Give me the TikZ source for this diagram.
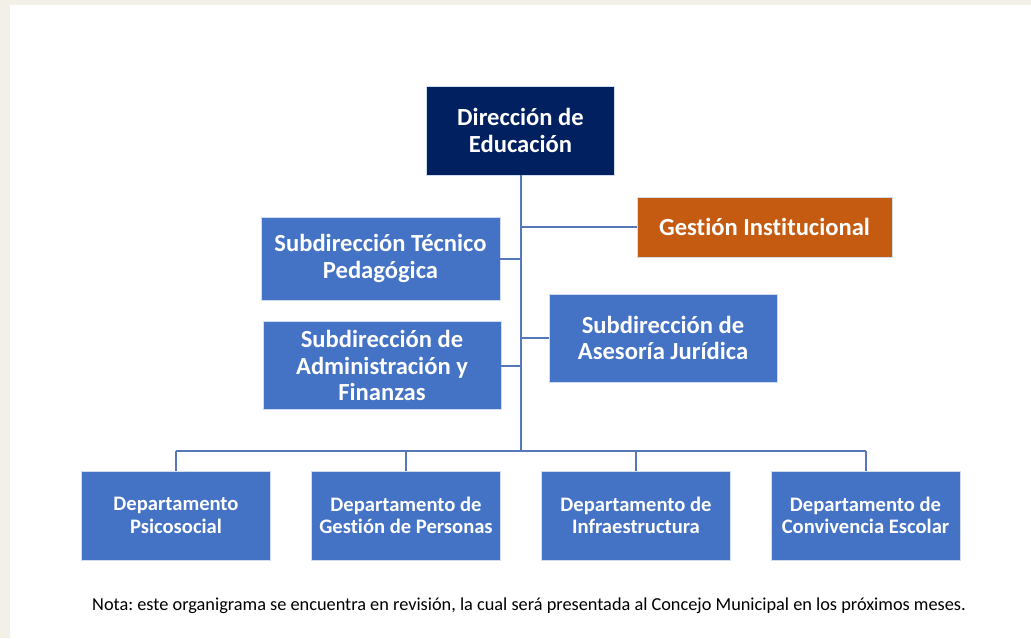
\documentclass[tikz,border=0pt]{standalone}
\usepackage{fontspec}
\setmainfont{Carlito}[Ligatures=NoCommon]
\frenchspacing
\definecolor{bgbeige}{HTML}{F3F0E8}
\definecolor{navy}{HTML}{002060}
\definecolor{orangebox}{HTML}{C55A11}
\definecolor{bluebox}{HTML}{4472C4}
\definecolor{connblue}{HTML}{5677B8}
\tikzset{
  box/.style={rectangle, draw=white!75!bluebox, line width=0.6pt, text=white, align=center, inner sep=0pt, font=\bfseries\fontsize{24.6}{26.5}\selectfont},
  deptbox/.style={box, fill=bluebox, minimum width=189pt, minimum height=89pt, font=\bfseries\fontsize{20.6}{22.5}\selectfont},
  conn/.style={draw=connblue, line width=2pt}
}
\begin{document}
\begin{tikzpicture}[x=1pt,y=-1pt]
\fill[bgbeige] (0,0) rectangle (1031,638);
\fill[white] (10,5) rectangle (1031,638);
\useasboundingbox (0,0) rectangle (1031,638);

\coordinate (bus) at (520.5,451);

\node[box, fill=navy, minimum width=188pt, minimum height=89pt] (dir) at (520.5,130.5) {Dirección de\\Educación};
\node[box, fill=orangebox, minimum width=255pt, minimum height=60pt] (gest) at (764.5,227) {Gestión Institucional};
\node[box, fill=bluebox, minimum width=239pt, minimum height=83pt] (tec) at (380.5,258.5) {Subdirección Técnico\\Pedagógica};
\node[box, fill=bluebox, minimum width=238pt, minimum height=88pt] (adm) at (382,365.5) {Subdirección de\\Administración y\\Finanzas};
\node[box, fill=bluebox, minimum width=228pt, minimum height=88pt] (jur) at (663,338) {Subdirección de\\Asesoría Jurídica};

\node[deptbox] (d1) at (176,515.5) {Departamento\\Psicosocial};
\node[deptbox] (d2) at (406,515.5) {Departamento de\\Gestión de Personas};
\node[deptbox] (d3) at (636,515.5) {Departamento de\\Infraestructura};
\node[deptbox] (d4) at (865.5,515.5) {Departamento de\\Convivencia Escolar};

\draw[conn] (dir.south) -- (bus);
\draw[conn] (gest.west) -- (gest.west -| dir.south);
\draw[conn] (tec.east) -- (tec.east -| dir.south);
\draw[conn] (adm.east) -- (adm.east -| dir.south);
\draw[conn] (jur.west) -- (jur.west -| dir.south);
\draw[conn] (d1.north |- bus) -- (d4.north |- bus);
\foreach \d in {d1,d2,d3,d4}{
  \draw[conn] (\d.north |- bus) -- (\d.north);
}

\node[font=\fontsize{18.3}{22}\selectfont, text=black, inner sep=0pt] (nota) at (529,606) {Nota: este organigrama se encuentra en revisión, la cual será presentada al Concejo Municipal en los próximos meses.};
\end{tikzpicture}
\end{document}
